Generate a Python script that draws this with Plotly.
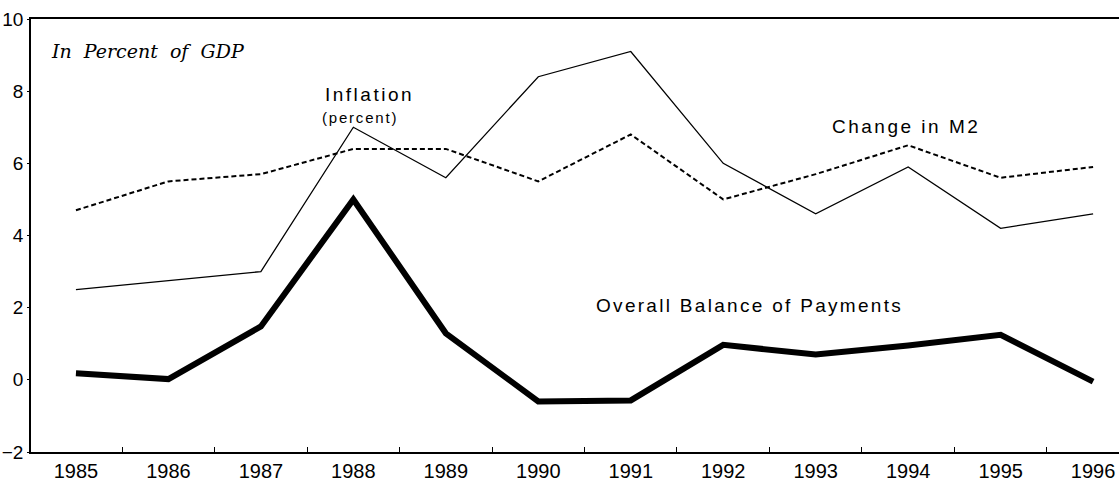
import plotly.graph_objects as go

years = [1985, 1986, 1987, 1988, 1989, 1990, 1991, 1992, 1993, 1994, 1995, 1996]
inflation = [2.5, 2.75, 3.0, 7.0, 5.6, 8.4, 9.1, 6.0, 4.6, 5.9, 4.2, 4.6]
change_m2 = [4.7, 5.5, 5.7, 6.4, 6.4, 5.5, 6.8, 5.0, 5.7, 6.5, 5.6, 5.9]
balance_of_payments = [0.18, 0.02, 1.48, 5.0, 1.29, -0.6, -0.57, 0.97, 0.7, 0.95, 1.25, -0.05]
y_ticks = [-2, 0, 2, 4, 6, 8, 10]
minor_ticks = [1984.5 + i for i in range(13)]

fig = go.Figure()
fig.add_trace(go.Scatter(x=years, y=inflation, mode="lines",
                         line=dict(color="black", width=1.3), name="Inflation"))
fig.add_trace(go.Scatter(x=years, y=change_m2, mode="lines",
                         line=dict(color="black", width=2, dash="5px,3px"), name="Change in M2"))
fig.add_trace(go.Scatter(x=years, y=balance_of_payments, mode="lines",
                         line=dict(color="black", width=6), name="Overall Balance of Payments"))

sans = "Liberation Sans, Arial"


def spaced(txt, px):
    return f'<span style="letter-spacing:{px}px">{txt}</span>'


fig.update_layout(
    width=1119, height=489,
    margin=dict(l=31, r=0, t=19, b=37, autoexpand=False),
    paper_bgcolor="white", plot_bgcolor="white",
    showlegend=False,
    font=dict(family=sans, color="black"),
    xaxis=dict(range=[1984.514, 1996.28], tickmode="array", tickvals=years,
               ticktext=[str(y) for y in years], ticks="", showgrid=False,
               zeroline=False, showline=True, linecolor="black", linewidth=1.5,
               mirror=True, tickfont=dict(size=20, family=sans), automargin=False,
               minor=dict(tickmode="array", tickvals=minor_ticks, ticks="inside",
                          ticklen=5, tickcolor="black", tickwidth=1.2)),
    yaxis=dict(range=[-2, 10], tickmode="array", tickvals=y_ticks,
               ticks="outside", ticklen=2, tickcolor="black", showgrid=False,
               zeroline=False, showline=True, linecolor="black", linewidth=1.8,
               tickfont=dict(size=19, family=sans), automargin=False),
    annotations=[
        dict(x=1984.71, y=9.1, xref="x", yref="y", xanchor="left", yanchor="middle",
             text="<i>In  Percent  of  GDP</i>", showarrow=False,
             font=dict(size=19, family="DejaVu Serif, Liberation Serif")),
        dict(x=1988.17, y=7.91, xref="x", yref="y", text=spaced("Inflation", 2.5), showarrow=False,
             font=dict(size=19, family=sans)),
        dict(x=1988.07, y=7.27, xref="x", yref="y", text=spaced("(percent)", 1.8), showarrow=False,
             font=dict(size=15, family=sans)),
        dict(x=1993.98, y=7.03, xref="x", yref="y", text=spaced("Change in M2", 2.5), showarrow=False,
             font=dict(size=19, family=sans)),
        dict(x=1992.28, y=2.05, xref="x", yref="y", text=spaced("Overall Balance of Payments", 2.3),
             showarrow=False, font=dict(size=19, family=sans)),
    ],
)

fig.write_html("out.html", config={"displayModeBar": False},
               post_script="document.body.style.margin='0';")
